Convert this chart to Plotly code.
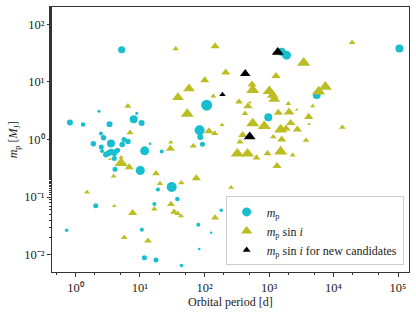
import plotly.graph_objects as go

# m_p (true mass) planets: period [d], mass [M_J], marker size
mp_period = [5.2, 0.82, 1.31, 2.31, 7.98, 8.9, 10.6, 3.37, 1.89, 2.48, 2.72, 3.55, 2.51, 2.58,
             2.97, 3.27, 3.59, 4.0, 4.3, 4.5, 5.3, 5.65, 6.5, 10.1, 11.8, 14.3, 21.7, 4.1, 4.0,
             84, 86, 93, 108, 31, 19, 2.06, 16.7, 38, 0.73, 10.7, 80, 83, 11.7, 17.7, 44, 182,
             127, 1563, 1868, 105000, 975, 5490]
mp_mass = [36, 1.97, 1.82, 3.1, 2.25, 2.86, 1.94, 1.84, 0.84, 1.27, 1.07, 0.85, 0.74, 0.63,
           0.55, 0.585, 0.61, 0.57, 0.63, 0.65, 0.82, 1.0, 0.92, 0.29, 0.635, 0.84, 0.62, 0.305, 0.47,
           1.45, 1.11, 0.83, 3.94, 0.15, 0.135, 0.071, 0.076, 0.093, 0.0266, 0.027, 0.033, 0.0126,
           0.0089, 0.0081, 0.0065, 0.059, 0.024, 33.4, 29.1, 38, 2.44, 5.9]
mp_size = [7, 6, 4.5, 3, 8, 3, 6, 6, 5.5, 4, 5.5, 8, 5, 4, 6, 6, 6, 5.5, 5, 5, 5.5, 5, 5.5, 9, 9,
           2.5, 4, 5, 5, 10, 6, 5, 11, 10, 4, 5, 4, 4.5, 3.5, 4, 4, 2.5, 5, 5, 3.5, 3.5, 2.5, 8, 9,
           8, 8, 8]

# m_p sin i planets
ms_period = [35.8, 101, 57.5, 38.8, 54, 6.5, 7.0, 117, 30, 29.5, 67, 5.1, 5.1, 6.8, 3.9, 3.43,
             17.7, 20.4, 43.7, 74.6, 1.51, 4.0, 7.7, 30.2, 16.7, 33.7, 38.4, 43.2, 5.7, 13.3,
             323, 464, 640, 948, 1518, 2330, 1330, 258, 146, 146, 213, 137, 343, 545, 559, 472,
             424, 187, 144, 559, 391, 355, 3450, 1284, 1011, 1141, 1208, 7460, 5890, 1990, 4750,
             1393, 2042, 2690, 4120, 4170, 13700, 845, 1518, 1836, 2170, 2750, 1166, 1573, 3750,
             19400, 507]
ms_mass = [37.4, 10.7, 7.6, 5.4, 2.78, 3.8, 1.32, 1.39, 0.89, 0.69, 0.77, 0.49, 0.39, 0.33, 0.23,
           0.455, 0.257, 0.172, 0.177, 0.213, 0.122, 0.070, 0.053, 0.075, 0.062, 0.055, 0.052, 0.047,
           0.0199, 0.0174, 0.567, 0.567, 0.483, 0.571, 0.619, 0.534, 0.348, 0.147, 0.044, 41.7,
           14.6, 5.65, 4.5, 9.0, 7.2, 3.79, 2.83, 1.79, 1.27, 1.9, 1.2, 0.91, 21.4, 12.7, 6.9, 5.88,
           5.0, 8.2, 6.8, 4.2, 3.79, 2.9, 2.98, 3.3, 2.47, 1.84, 1.62, 1.7, 1.49, 1.55, 1.94, 1.49,
           1.11, 1.0, 0.97, 48.3, 4.39]
ms_size = [5, 7, 9, 9, 10, 5.5, 5.5, 7, 4, 7, 5.5, 4, 10, 7, 4.5, 3, 6, 5, 5, 7, 4.5, 3.5, 7, 6,
           5, 6, 5, 4.5, 5, 6, 10, 10, 6, 6, 10, 4.5, 7, 4.5, 6, 7, 7, 4.5, 6, 7, 10, 7, 5, 4, 5.5,
           10, 7, 5.5, 10, 7, 10, 9, 9, 10, 10, 4.5, 4, 7, 8, 3, 7, 3, 5, 10, 10, 7, 7, 7, 5, 7, 5,
           5, 3]

# m_p sin i for new candidates
nc_period = [1365, 428, 190, 502]
nc_mass = [32.8, 13.9, 6.0, 1.12]
nc_size = [9, 8, 5, 9]

# axis tick labels
x_tick_vals = [1, 10, 100, 1000, 10000, 100000]
x_tick_text = ["10⁰", "10¹", "10²", "10³", "10⁴", "10⁵"]
y_tick_vals = [0.01, 0.1, 1, 10, 100]
y_tick_text = ["10⁻²", "10⁻¹", "10⁰", "10¹", "10²"]

CYAN = "#17becf"
OLIVE = "#bcbd22"

fig = go.Figure()
fig.add_trace(go.Scatter(x=mp_period, y=mp_mass, mode="markers", showlegend=False,
                         marker=dict(color=CYAN, size=mp_size, symbol="circle", opacity=1,
                                     line=dict(width=0))))
fig.add_trace(go.Scatter(x=ms_period, y=ms_mass, mode="markers", showlegend=False,
                         marker=dict(color=OLIVE, size=[s * 1.15 for s in ms_size], opacity=1,
                                     symbol="triangle-up", line=dict(width=0))))
fig.add_trace(go.Scatter(x=nc_period, y=nc_mass, mode="markers", showlegend=False,
                         marker=dict(color="black", size=[s * 1.15 for s in nc_size], opacity=1,
                                     symbol="triangle-up", line=dict(width=0))))
# legend entries
fig.add_trace(go.Scatter(x=[None], y=[None], mode="markers", name="<i>m</i><sub>p</sub>",
                         marker=dict(color=CYAN, size=9, symbol="circle")))
fig.add_trace(go.Scatter(x=[None], y=[None], mode="markers",
                         name="<i>m</i><sub>p</sub> sin <i>i</i>",
                         marker=dict(color=OLIVE, size=10, symbol="triangle-up")))
fig.add_trace(go.Scatter(x=[None], y=[None], mode="markers",
                         name="<i>m</i><sub>p</sub> sin <i>i</i> for new candidates",
                         marker=dict(color="black", size=7, symbol="triangle-up")))

axis_common = dict(type="log", showgrid=False, zeroline=False, showline=True, linecolor="#333",
                   linewidth=1, mirror=True, ticks="outside", ticklen=4, tickcolor="#333",
                   automargin=False,
                   minor=dict(ticks="outside", ticklen=2, tickcolor="#333", showgrid=False),
                   tickfont=dict(size=12.5, color="#222"))

fig.update_layout(
    width=416, height=313,
    margin=dict(l=52, r=7, t=7, b=41, autoexpand=False),
    paper_bgcolor="white", plot_bgcolor="white",
    font=dict(family="Liberation Serif", size=12, color="#222"),
    xaxis=dict(axis_common, range=[-0.364, 5.17], tickvals=x_tick_vals, ticktext=x_tick_text),
    yaxis=dict(axis_common, range=[-2.30, 2.30], tickvals=y_tick_vals, ticktext=y_tick_text),
    legend=dict(x=0.985, y=0.025, xanchor="right", yanchor="bottom",
                bgcolor="rgba(255,255,255,0.85)", bordercolor="#ccc", borderwidth=1,
                font=dict(size=12), tracegroupgap=0, itemwidth=30),
    annotations=[
        dict(text="Orbital period [d]", xref="paper", yref="paper", x=0.5, y=-0.113,
             xanchor="center", yanchor="middle", showarrow=False, font=dict(size=12)),
        dict(text="<i>m</i><sub>p</sub> [<i>M</i><sub>J</sub>]", xref="paper", yref="paper",
             x=-0.107, y=0.5, xanchor="center", yanchor="middle", textangle=-90,
             showarrow=False, font=dict(size=12)),
    ],
)

# remove the default page margin so the 416x313 figure sits at the window origin
fig.write_html("out.html", config={"displayModeBar": False},
               post_script="document.body.style.margin='0';document.body.style.overflow='hidden';")
